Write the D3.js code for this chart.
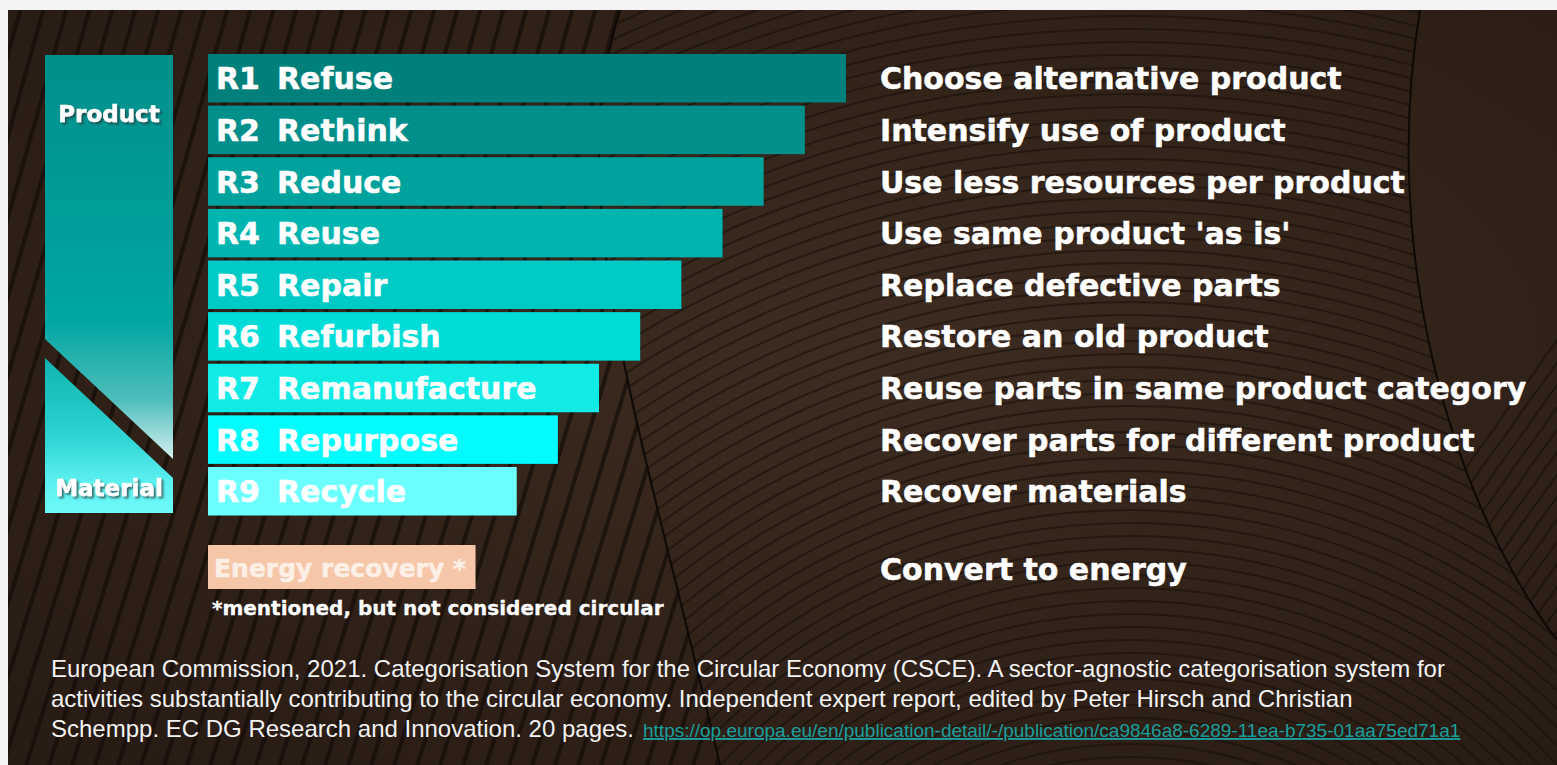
<!DOCTYPE html>
<html>
<head>
<meta charset="utf-8">
<script src="https://cdn.jsdelivr.net/npm/d3@7"></script>
<style>
  html, body { margin:0; padding:0; background:#f3f3f3; }
  svg { display:block; }
  .big { font-family:"DejaVu Sans", Verdana, sans-serif; font-weight:bold; fill:#fff; stroke:#fff; stroke-width:0.5px; }
  .cite { font-family:"Liberation Sans", Arial, sans-serif; fill:#f2f2f2; }
</style>
</head>
<body>
<div id="chart"></div>
<script>
// Datos: las 9 R's de la economia circular (CSCE 2021)
var codes = ["R1","R2","R3","R4","R5","R6","R7","R8","R9"]
var strategies = ["Refuse","Rethink","Reduce","Reuse","Repair","Refurbish","Remanufacture","Repurpose","Recycle"]
var descriptions = [
  "Choose alternative product",
  "Intensify use of product",
  "Use less resources per product",
  "Use same product 'as is'",
  "Replace defective parts",
  "Restore an old product",
  "Reuse parts in same product category",
  "Recover parts for different product",
  "Recover materials"
]
var barLengths = [15.5,14.5,13.5,12.5,11.5,10.5,9.5,8.5,7.5] // longitud relativa (circularidad)
var levels = ["Product","Material"]
var energyLabel = "Energy recovery *"
var energyDesc = "Convert to energy"
var energyLength = 6.5
var note = "*mentioned, but not considered circular"
var citation = [
  "European Commission, 2021. Categorisation System for the Circular Economy (CSCE). A sector-agnostic categorisation system for",
  "activities substantially contributing to the circular economy. Independent expert report, edited by Peter Hirsch and Christian",
  "Schempp. EC DG Research and Innovation. 20 pages."
]
var link = "https://op.europa.eu/en/publication-detail/-/publication/ca9846a8-6289-11ea-b735-01aa75ed71a1"

var palette = ["#00807b","#008f8b","#00a29e","#00b4b0","#00cac6","#00dcd8","#10ebe6","#00fcfc","#6cffff"]

var width = 1557, height = 765

var svg = d3.select("#chart").append("svg")
    .attr("width", width)
    .attr("height", height)

var defs = svg.append("defs")

//Fondo madera
var bg = defs.append("radialGradient").attr("id","bgGrad")
    .attr("cx","0.55").attr("cy","0.45").attr("r","0.7")
bg.append("stop").attr("offset","0%").attr("stop-color","#3d2c21")
bg.append("stop").attr("offset","100%").attr("stop-color","#291c14")

svg.append("rect")
    .attr("x",8).attr("y",10)
    .attr("width",width-8).attr("height",height-10)
    .attr("fill","url(#bgGrad)")

defs.append("clipPath").attr("id","clipLeft")
  .append("path")
    .attr("d","M8,10 L620,10 C560,200 640,420 720,765 L8,765 Z")
defs.append("clipPath").attr("id","clipMid")
  .append("path")
    .attr("d","M620,10 L1420,10 C1380,250 1450,500 1557,640 L1557,765 L720,765 C640,420 560,200 620,10 Z")
defs.append("clipPath").attr("id","clipRight")
  .append("path")
    .attr("d","M1420,10 L1557,10 L1557,640 C1450,500 1380,250 1420,10 Z")
defs.append("clipPath").attr("id","clipPanel")
  .append("rect").attr("x",8).attr("y",10).attr("width",width-8).attr("height",height-10)

var deco = svg.append("g").attr("clip-path","url(#clipPanel)")

deco.append("g").attr("clip-path","url(#clipLeft)")
  .selectAll("path")
  .data(d3.range(-20, 40)).enter()
  .append("path")
    .attr("d", i => {
        var x0 = i*23
        return "M"+x0+",775 Q"+(x0+120)+",400 "+(x0+230)+",0"
    })
    .attr("fill","none")
    .attr("stroke","#140d09")
    .attr("stroke-width",4)
    .attr("stroke-opacity",0.7)

deco.append("g").attr("clip-path","url(#clipMid)")
  .selectAll("circle")
  .data(d3.range(0, 70)).enter()
  .append("circle")
    .attr("cx",1130).attr("cy",1150)
    .attr("r", i => 380 + i*13)
    .attr("fill","none")
    .attr("stroke","#150e0a")
    .attr("stroke-width",2)
    .attr("stroke-opacity",0.55)

deco.append("g").attr("clip-path","url(#clipRight)")
  .selectAll("line")
  .data(d3.range(0, 40)).enter()
  .append("line")
    .attr("x1", i => 1300 + i*16).attr("y1",700)
    .attr("x2", i => 1300 + i*16 + 500).attr("y2",0)
    .attr("stroke","#150e0a")
    .attr("stroke-width",2)
    .attr("stroke-opacity",0.6)

//costuras oscuras
deco.selectAll(".seam")
  .data(["M620,10 C560,200 640,420 720,765","M1420,10 C1380,250 1450,500 1557,640"]).enter()
  .append("path")
    .attr("d", d => d)
    .attr("fill","none")
    .attr("stroke","#0e0906")
    .attr("stroke-width",2)

//Escalas
var escalaY = d3.scaleBand()
    .domain(codes)
    .range([54, 515.5])
    .paddingInner(0.06)

var escalaX = d3.scaleLinear()
    .domain([0, 15.5])
    .range([208, 846])

//Flecha producto -> material
var gUp = defs.append("linearGradient").attr("id","gradUp")
    .attr("gradientUnits","userSpaceOnUse").attr("x1",0).attr("y1",55).attr("x2",0).attr("y2",460)
gUp.append("stop").attr("offset","0%").attr("stop-color","#008f8b")
gUp.append("stop").attr("offset","65%").attr("stop-color","#00a6a2")
gUp.append("stop").attr("offset","85%").attr("stop-color","#4dbdbb")
gUp.append("stop").attr("offset","100%").attr("stop-color","#d8f1f1")

var gDown = defs.append("linearGradient").attr("id","gradDown")
    .attr("gradientUnits","userSpaceOnUse").attr("x1",0).attr("y1",358).attr("x2",0).attr("y2",513)
gDown.append("stop").attr("offset","0%").attr("stop-color","#10b3af")
gDown.append("stop").attr("offset","50%").attr("stop-color","#2cd3d1")
gDown.append("stop").attr("offset","80%").attr("stop-color","#5cf0f0")
gDown.append("stop").attr("offset","100%").attr("stop-color","#6ff9f9")

var sombra = defs.append("filter").attr("id","shadow")
    .attr("x","-10%").attr("y","-20%").attr("width","130%").attr("height","160%")
sombra.append("feDropShadow")
    .attr("dx",2).attr("dy",2).attr("stdDeviation",0.8)
    .attr("flood-color","#2b3a3a").attr("flood-opacity",0.75)

svg.append("path")
    .attr("d","M45,55 L173,55 L173,459 L45,339 Z")
    .attr("fill","url(#gradUp)")
svg.append("path")
    .attr("d","M45,358 L173,478 L173,513 L45,513 Z")
    .attr("fill","url(#gradDown)")

svg.selectAll(".nivel")
  .data(levels).enter()
  .append("text")
    .attr("class","nivel big")
    .attr("x",109)
    .attr("y",(d,i) => i==0 ? 122 : 496)
    .attr("text-anchor","middle")
    .style("font-size","23px")
    .attr("filter","url(#shadow)")
    .text(d => d)

//Barras
var filas = codes.map((c,i) => ({code:c, name:strategies[i], desc:descriptions[i], len:barLengths[i], color:palette[i]}))

svg.append("g")
  .selectAll("rect")
  .data(filas).enter()
  .append("rect")
    .attr("x", escalaX(0))
    .attr("y", d => escalaY(d.code))
    .attr("width", d => escalaX(d.len) - escalaX(0))
    .attr("height", escalaY.bandwidth())
    .attr("fill", d => d.color)

var etiquetas = svg.append("g")
etiquetas.selectAll(".code")
  .data(filas).enter()
  .append("text")
    .attr("class","code big")
    .attr("x",216)
    .attr("y", d => escalaY(d.code) + escalaY.bandwidth()/2 + 11)
    .style("font-size","30px")
    .text(d => d.code)
etiquetas.selectAll(".name")
  .data(filas).enter()
  .append("text")
    .attr("class","name big")
    .attr("x",277)
    .attr("y", d => escalaY(d.code) + escalaY.bandwidth()/2 + 11)
    .style("font-size","30px")
    .text(d => d.name)

svg.append("g")
  .selectAll("text")
  .data(filas).enter()
  .append("text")
    .attr("class","big")
    .attr("x",880)
    .attr("y", d => escalaY(d.code) + escalaY.bandwidth()/2 + 11)
    .style("font-size","30px")
    .text(d => d.desc)

//Recuperacion energetica
svg.append("rect")
    .attr("x", escalaX(0)).attr("y",545)
    .attr("width", escalaX(energyLength) - escalaX(0))
    .attr("height",44)
    .attr("fill","#f5c6a7")
svg.append("text")
    .attr("class","big")
    .attr("x",214).attr("y",577)
    .style("font-size","25px")
    .style("fill","#fcefe6")
    .style("stroke","#fcefe6")
    .text(energyLabel)
svg.append("text")
    .attr("class","big")
    .attr("x",880).attr("y",580)
    .style("font-size","30px")
    .text(energyDesc)
svg.append("text")
    .attr("class","big")
    .attr("x",212).attr("y",615)
    .style("font-size","20px")
    .style("stroke-width","0.3px")
    .text(note)

//Cita
var cita = svg.append("g")
cita.selectAll("text")
  .data(citation).enter()
  .append("text")
    .attr("class","cite")
    .attr("x",51)
    .attr("y",(d,i) => 677 + i*30)
    .style("font-size","24px")
    .text(d => d)
var ultima = cita.selectAll("text").nodes()[2].getComputedTextLength()
cita.append("text")
    .attr("x", 51 + ultima + 9)
    .attr("y", 737)
    .style("font-family","'Liberation Sans', Arial, sans-serif")
    .style("font-size","19px")
    .style("fill","#1b9e9b")
    .style("text-decoration","underline")
    .text(link)
</script>
</body>
</html>
